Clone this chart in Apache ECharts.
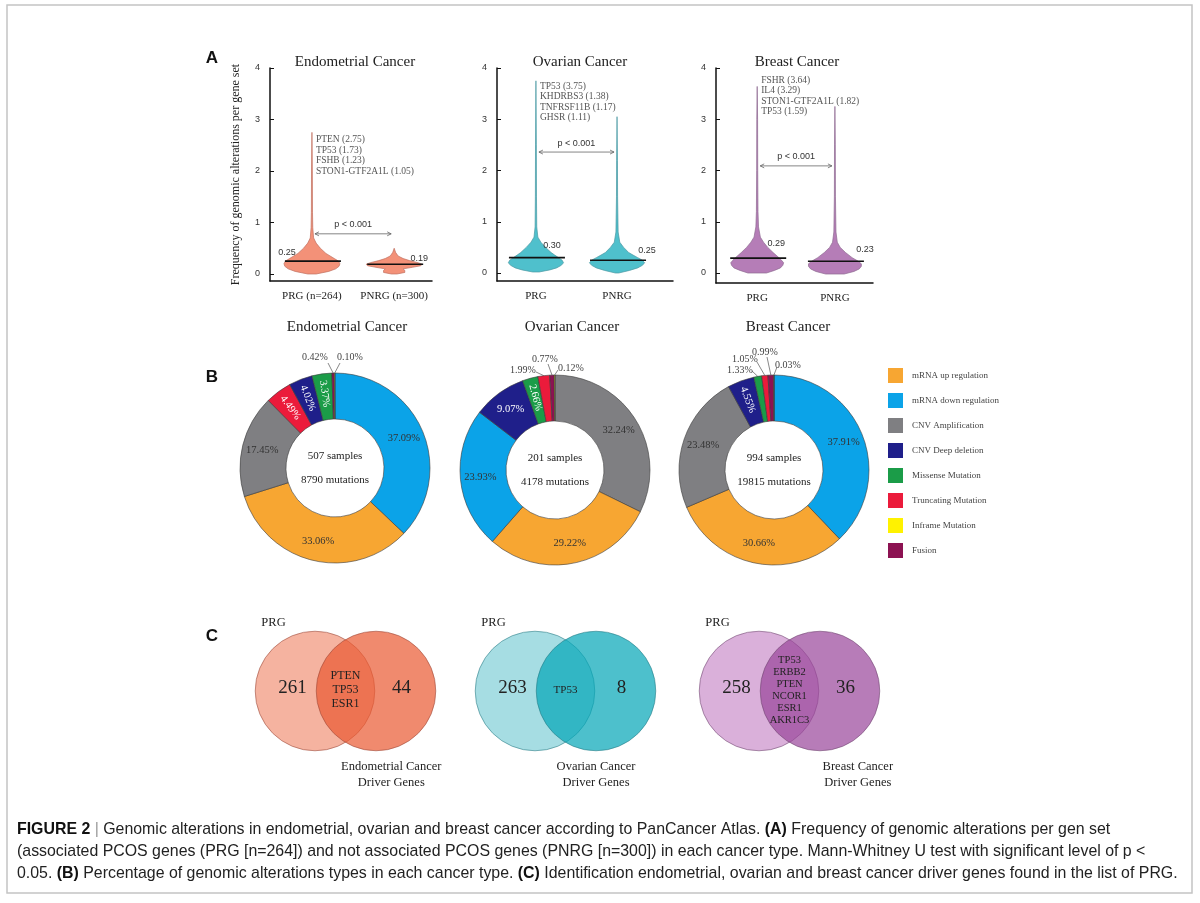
<!DOCTYPE html>
<html>
<head>
<meta charset="utf-8">
<title>Figure 2 - Genomic alterations</title>
<script src="https://cdn.jsdelivr.net/npm/echarts@6/dist/echarts.min.js"></script>
<style>
  html, body { margin: 0; padding: 0; background: #fff; }
  #chart { width: 1200px; height: 903px; }
</style>
</head>
<body>
<div id="chart"></div>
<script>
const serif = '"Liberation Serif", "DejaVu Serif", serif';
const sans = '"Liberation Sans", Arial, sans-serif';

// ---------- panel A : violins ----------
const cancerNames = ['Endometrial Cancer', 'Ovarian Cancer', 'Breast Cancer'];
const endoGroups = ['PRG (n=264)', 'PNRG (n=300)'];
const otherGroups = ['PRG', 'PNRG'];
const yTicks = [0, 1, 2, 3, 4];
const medians = [[0.25, 0.19], [0.30, 0.25], [0.29, 0.23]];

// density profiles: level on the y axis, relative width
const endoPrgLevels = [0.0, 0.05, 0.1, 0.15, 0.2, 0.25, 0.3, 0.35, 0.4, 0.5, 0.6, 0.7, 0.9, 1.2, 2.0, 2.75];
const endoPrgDensity = [0.15, 0.6, 0.85, 0.97, 1.0, 0.95, 0.8, 0.65, 0.5, 0.3, 0.15, 0.06, 0.03, 0.02, 0.015, 0];
const endoPnrgLevels = [0.0, 0.03, 0.07, 0.1, 0.13, 0.16, 0.19, 0.22, 0.26, 0.3, 0.35, 0.42, 0.5];
const endoPnrgDensity = [0.1, 0.38, 0.38, 0.32, 0.65, 0.95, 1.0, 0.85, 0.55, 0.32, 0.14, 0.05, 0];
const ovPrgLevels = [0.02, 0.06, 0.1, 0.15, 0.2, 0.25, 0.3, 0.35, 0.4, 0.5, 0.6, 0.7, 0.9, 1.5, 2.5, 3.75];
const ovPrgDensity = [0.12, 0.5, 0.75, 0.92, 1.0, 0.95, 0.82, 0.68, 0.55, 0.35, 0.18, 0.07, 0.03, 0.02, 0.015, 0];
const ovPnrgLevels = [0.0, 0.05, 0.1, 0.15, 0.2, 0.25, 0.3, 0.35, 0.4, 0.5, 0.6, 0.8, 1.5, 2.2, 3.05];
const ovPnrgDensity = [0.06, 0.45, 0.75, 0.92, 1.0, 0.92, 0.75, 0.58, 0.42, 0.24, 0.1, 0.04, 0.02, 0.015, 0];
const brPrgLevels = [0.0, 0.05, 0.1, 0.15, 0.2, 0.25, 0.3, 0.4, 0.5, 0.6, 0.7, 0.9, 1.2, 2.0, 3.0, 3.64];
const brPrgDensity = [0.35, 0.65, 0.88, 0.97, 1.0, 0.92, 0.82, 0.6, 0.4, 0.24, 0.12, 0.05, 0.03, 0.02, 0.015, 0];
const brPnrgLevels = [-0.02, 0.03, 0.08, 0.13, 0.18, 0.23, 0.3, 0.4, 0.5, 0.6, 0.8, 1.5, 2.5, 3.25];
const brPnrgDensity = [0.35, 0.72, 0.92, 1.0, 1.0, 0.88, 0.65, 0.4, 0.2, 0.09, 0.04, 0.02, 0.015, 0];

const endoNotes = ['PTEN (2.75)', 'TP53 (1.73)', 'FSHB (1.23)', 'STON1-GTF2A1L (1.05)'];
const ovNotes = ['TP53 (3.75)', 'KHDRBS3 (1.38)', 'TNFRSF11B (1.17)', 'GHSR (1.11)'];
const brNotes = ['FSHR (3.64)', 'IL4 (3.29)', 'STON1-GTF2A1L (1.82)', 'TP53 (1.59)'];
const pValueText = 'p < 0.001';
const pBracketLevels = [0.78, 2.36, 2.09];

// ---------- panel B : alteration types ----------
const alterationTypes = ['mRNA up regulation', 'mRNA down regulation', 'CNV Amplification', 'CNV Deep deletion',
  'Missense Mutation', 'Truncating Mutation', 'Inframe Mutation', 'Fusion'];
const sampleCounts = [507, 201, 994];
const mutationCounts = [8790, 4178, 19815];
const endoSliceTypes = ['mRNA down regulation', 'mRNA up regulation', 'CNV Amplification', 'Truncating Mutation',
  'CNV Deep deletion', 'Missense Mutation', 'Fusion', 'Inframe Mutation'];
const endoSlicePcts = [37.09, 33.06, 17.45, 4.49, 4.02, 3.37, 0.42, 0.10];
const ovSliceTypes = ['CNV Amplification', 'mRNA up regulation', 'mRNA down regulation', 'CNV Deep deletion',
  'Missense Mutation', 'Truncating Mutation', 'Fusion', 'Inframe Mutation'];
const ovSlicePcts = [32.24, 29.22, 23.93, 9.07, 2.66, 1.99, 0.77, 0.12];
const brSliceTypes = ['mRNA down regulation', 'mRNA up regulation', 'CNV Amplification', 'CNV Deep deletion',
  'Missense Mutation', 'Truncating Mutation', 'Fusion', 'Inframe Mutation'];
const brSlicePcts = [37.91, 30.66, 23.48, 4.55, 1.33, 1.05, 0.99, 0.03];

// ---------- panel C : venn ----------
const vennLeftName = 'PRG';
const vennLeftCounts = [261, 263, 258];
const vennRightCounts = [44, 8, 36];
const vennShared = [['PTEN', 'TP53', 'ESR1'], ['TP53'], ['TP53', 'ERBB2', 'PTEN', 'NCOR1', 'ESR1', 'AKR1C3']];
const vennRightNames = ['Endometrial Cancer\nDriver Genes', 'Ovarian Cancer\nDriver Genes', 'Breast Cancer\nDriver Genes'];

const captionLines = [
  '{b|FIGURE 2} {s||} Genomic alterations in endometrial, ovarian and breast cancer according to PanCancer Atlas. {b|(A)} Frequency of genomic alterations per gen set',
  '(associated PCOS genes (PRG [n=264]) and not associated PCOS genes (PNRG [n=300]) in each cancer type. Mann-Whitney U test with significant level of p <',
  '0.05. {b|(B)} Percentage of genomic alterations types in each cancer type. {b|(C)} Identification endometrial, ovarian and breast cancer driver genes found in the list of PRG.'
];

// ---------- styles / layout ----------
const typeColors = ['#F7A632', '#0BA3E8', '#7F7F82', '#1F1F8A', '#1B9C48', '#EB1B3B', '#FFF200', '#8C1252'];
const darkTypes = ['CNV Deep deletion', 'Missense Mutation', 'Truncating Mutation'];
const violinColors = [
  { fill: '#F39178', stroke: '#C07060' },
  { fill: '#4FC0CC', stroke: '#4A98A2' },
  { fill: '#B57DB7', stroke: '#8E6A90' }
];
const vennColors = [
  { left: '#F5B3A0', right: 'rgba(234,88,48,0.7)', stroke: 'rgba(150,70,55,0.7)' },
  { left: '#A6DDE3', right: 'rgba(2,165,182,0.7)', stroke: 'rgba(40,120,130,0.7)' },
  { left: '#DAB0DA', right: 'rgba(152,68,154,0.7)', stroke: 'rgba(110,70,110,0.7)' }
];
const violinProfiles = [
  [{ levels: endoPrgLevels, density: endoPrgDensity }, { levels: endoPnrgLevels, density: endoPnrgDensity }],
  [{ levels: ovPrgLevels, density: ovPrgDensity }, { levels: ovPnrgLevels, density: ovPnrgDensity }],
  [{ levels: brPrgLevels, density: brPrgDensity }, { levels: brPnrgLevels, density: brPnrgDensity }]
];
const violinNotes = [endoNotes, ovNotes, brNotes];
const noteDy = [7.6, 5.4, -6];
const medianLabelOffsets = [[[-25, -9], [25, -6]], [[16, -12], [30, -10]], [[19, -15], [30, -12]]];
const violinGrids = [
  { left: 270, top: 68, width: 162, height: 213, xmin: -0.51, xmax: 1.46, ymin: -0.136 },
  { left: 497, top: 68, width: 176, height: 213, xmin: -0.48, xmax: 1.69, ymin: -0.156 },
  { left: 716, top: 68, width: 157, height: 215, xmin: -0.53, xmax: 1.49, ymin: -0.195 }
];
const pieCenters = [[335, 468], [555, 470], [774, 470]];
// [label x, label y, line end x, line end y] for slices labelled outside the ring
const outsideLabels = [
  { 6: [315, 357, 328, 363], 7: [350, 357, 340, 363] },
  { 5: [523, 370, 536, 372], 6: [545, 359, 548, 364], 7: [571, 368, 558, 370] },
  { 4: [740, 370, 752, 371], 5: [745, 359, 757, 362], 6: [765, 352, 767, 357], 7: [788, 365, 777, 367] }
];
const vennGridLefts = [223.5, 443.5, 667.5];
const vennUnit = 61;
const vennRadius = 0.98;
const vennRightLabelX = [1.25, 1.0, 1.62];
const sharedFont = [[12, 14], [11, 13], [10.5, 12]];

const chart = echarts.init(document.getElementById('chart'));

const grids = [], xAxes = [], yAxes = [], series = [];

// pies
function pieSeries(k, types, pcts) {
  const outside = outsideLabels[k];
  return {
    type: 'pie', name: cancerNames[k], center: pieCenters[k], radius: [49, 95],
    startAngle: 90, clockwise: true, avoidLabelOverlap: false, silent: true,
    itemStyle: { borderColor: '#3b3b3b', borderWidth: 0.6 },
    label: {
      position: 'inside', fontFamily: serif, fontSize: 10.5, color: '#333',
      formatter: function (p) { return p.value.toFixed(2) + '%'; }
    },
    labelLine: { show: false },
    data: types.map(function (t, i) {
      const pct = pcts[i];
      const item = { name: t, value: pct, itemStyle: { color: typeColors[alterationTypes.indexOf(t)] } };
      if (pct < 2.5) {
        item.label = { position: 'outside', color: '#444', fontSize: 10 };
        item.labelLine = { show: true, length: 6, length2: 4, lineStyle: { color: '#555', width: 0.7 } };
      } else if (pct < 5) {
        item.label = { rotate: 'radial', color: '#fff' };
      } else if (darkTypes.indexOf(t) >= 0) {
        item.label = { color: '#fff' };
      }
      return item;
    }),
    labelLayout: function (p) {
      const pos = outside[p.dataIndex];
      if (!pos) return {};
      const pts = p.labelLinePoints;
      const res = { x: pos[0], y: pos[1], align: 'center', verticalAlign: 'middle' };
      if (pts && pts.length) res.labelLinePoints = [pts[0], [pos[2], pos[3]]];
      return res;
    }
  };
}
series.push(pieSeries(0, endoSliceTypes, endoSlicePcts));
series.push(pieSeries(1, ovSliceTypes, ovSlicePcts));
series.push(pieSeries(2, brSliceTypes, brSlicePcts));

// violins
function violinRender(panel) {
  return function (params, api) {
    const cat = api.value(0);
    const med = api.value(1);
    const prof = violinProfiles[panel][cat];
    const half = api.size([1, 0])[0] * 0.34;
    const right = [], left = [];
    for (let i = 0; i < prof.levels.length; i++) {
      const p = api.coord([cat, prof.levels[i]]);
      right.push([p[0] + prof.density[i] * half, p[1]]);
      left.unshift([p[0] - prof.density[i] * half, p[1]]);
    }
    const col = violinColors[panel];
    const m = api.coord([cat, med]);
    const off = medianLabelOffsets[panel][cat];
    const kids = [
      { type: 'polygon', shape: { points: right.concat(left) }, style: { fill: col.fill, stroke: col.stroke, lineWidth: 0.7 } },
      { type: 'line', shape: { x1: m[0] - 27, y1: m[1], x2: m[0] + 29, y2: m[1] }, style: { stroke: '#111', lineWidth: 1.6 } },
      { type: 'text', x: m[0] + off[0], y: m[1] + off[1],
        style: { text: med.toFixed(2), fontFamily: sans, fontSize: 9, fill: '#333', align: 'center', verticalAlign: 'middle' } }
    ];
    if (cat === 0) {
      const top = api.coord([0, prof.levels[prof.levels.length - 1]]);
      kids.push({ type: 'text', x: top[0] + 4, y: top[1] + noteDy[panel] - 5.25,
        style: { text: violinNotes[panel].join('\n'), fontFamily: serif, fontSize: 9.5, lineHeight: 10.5,
          fill: '#555', align: 'left', verticalAlign: 'top' } });
    } else {
      const a = api.coord([0, pBracketLevels[panel]]);
      const b = api.coord([1, pBracketLevels[panel]]);
      const x1 = a[0] + 3, x2 = b[0] - 3, y = a[1];
      const st = { stroke: '#666', lineWidth: 0.8, fill: null };
      kids.push(
        { type: 'line', shape: { x1: x1, y1: y, x2: x2, y2: y }, style: st },
        { type: 'polyline', shape: { points: [[x1 + 4, y - 2], [x1, y], [x1 + 4, y + 2]] }, style: st },
        { type: 'polyline', shape: { points: [[x2 - 4, y - 2], [x2, y], [x2 - 4, y + 2]] }, style: st },
        { type: 'text', x: (x1 + x2) / 2, y: y - 9,
          style: { text: pValueText, fontFamily: sans, fontSize: 9, fill: '#333', align: 'center', verticalAlign: 'middle' } }
      );
    }
    return { type: 'group', children: kids };
  };
}

violinGrids.forEach(function (g, k) {
  const groups = k === 0 ? endoGroups : otherGroups;
  grids.push({ left: g.left, top: g.top, width: g.width, height: g.height });
  xAxes.push({
    type: 'value', gridIndex: k, min: g.xmin, max: g.xmax,
    axisLine: { onZero: false, lineStyle: { color: '#111', width: 1.5 } },
    axisTick: { show: false }, splitLine: { show: false },
    axisLabel: { customValues: [0, 1], formatter: function (v) { return groups[Math.round(v)]; },
      fontFamily: serif, fontSize: 11, color: '#222', margin: 10 }
  });
  yAxes.push({
    type: 'value', gridIndex: k, min: g.ymin, max: 4,
    name: k === 0 ? 'Frequency of genomic alterations per gene set' : '',
    nameLocation: 'middle', nameGap: 28, nameRotate: 90,
    nameTextStyle: { fontFamily: serif, fontSize: 12, color: '#222' },
    axisLine: { onZero: false, lineStyle: { color: '#111', width: 1.5 } },
    axisTick: { inside: true, length: 4, customValues: yTicks, lineStyle: { color: '#111' } },
    splitLine: { show: false },
    axisLabel: { customValues: yTicks, fontFamily: sans, fontSize: 9, color: '#333', margin: 10 }
  });
  series.push({
    type: 'custom', xAxisIndex: k, yAxisIndex: k, silent: true, clip: false,
    data: [[0, medians[k][0]], [1, medians[k][1]]],
    renderItem: violinRender(k)
  });
});

// venns
function vennRender(panel) {
  return function (params, api) {
    const idx = params.dataIndex;
    const c = api.coord([api.value(0), api.value(1)]);
    const r = api.size([vennRadius, 0])[0];
    const col = vennColors[panel];
    const kids = [{ type: 'circle', shape: { cx: c[0], cy: c[1], r: r },
      style: { fill: idx === 0 ? col.left : col.right, stroke: col.stroke, lineWidth: 0.8 } }];
    if (idx === 1) {
      const t = function (x, y, text, size, lh) {
        const p = api.coord([x, y]);
        return { type: 'text', x: p[0], y: p[1], style: { text: text, fontFamily: serif, fontSize: size,
          lineHeight: lh || size * 1.2, fill: '#222', align: 'center', verticalAlign: 'middle' } };
      };
      kids.push(
        t(-0.68, 1.12, vennLeftName, 12.5),
        t(-0.37, 0.05, String(vennLeftCounts[panel]), 19),
        t(1.42, 0.05, String(vennRightCounts[panel]), 19),
        t(0.5, 0.02, vennShared[panel].join('\n'), sharedFont[panel][0], sharedFont[panel][1]),
        t(vennRightLabelX[panel], -1.37, vennRightNames[panel], 12.5, 16)
      );
    }
    return { type: 'group', children: kids };
  };
}

vennGridLefts.forEach(function (left, k) {
  const gi = 3 + k;
  grids.push({ left: left, top: 599.5, width: 4 * vennUnit, height: 3 * vennUnit });
  xAxes.push({ type: 'value', gridIndex: gi, min: -1.5, max: 2.5, show: false });
  yAxes.push({ type: 'value', gridIndex: gi, min: -1.5, max: 1.5, show: false });
  series.push({
    type: 'custom', xAxisIndex: gi, yAxisIndex: gi, silent: true, clip: false,
    data: [[0, 0], [1, 0]],
    renderItem: vennRender(k)
  });
});

// free text
const graphics = [
  { type: 'rect', shape: { x: 7, y: 5, width: 1185, height: 888 }, style: { fill: null, stroke: '#c4c4c4', lineWidth: 1.5 } }
];
function label(x, y, text, font, size, weight, color, align) {
  graphics.push({ type: 'text', x: x, y: y, style: { text: text, fontFamily: font, fontSize: size,
    fontWeight: weight || 'normal', fill: color || '#222', align: align || 'center', verticalAlign: 'middle' } });
}
label(212, 58, 'A', sans, 17, 'bold', '#111');
label(212, 377, 'B', sans, 17, 'bold', '#111');
label(212, 636, 'C', sans, 17, 'bold', '#111');
[355, 580, 797].forEach(function (x, k) { label(x, 62, cancerNames[k], serif, 15); });
[347, 572, 788].forEach(function (x, k) { label(x, 327, cancerNames[k], serif, 15); });
pieCenters.forEach(function (c, k) {
  label(c[0], c[1] - 12, sampleCounts[k] + ' samples', serif, 11);
  label(c[0], c[1] + 12, mutationCounts[k] + ' mutations', serif, 11);
});
captionLines.forEach(function (line, i) {
  graphics.push({ type: 'text', x: 17, y: 830 + i * 22, style: {
    text: line, fontFamily: sans, fontSize: 15.9, fill: '#222', verticalAlign: 'middle',
    rich: {
      b: { fontFamily: sans, fontSize: 15.9, fontWeight: 'bold', fill: '#111' },
      s: { fontFamily: sans, fontSize: 15.9, fill: '#999' }
    }
  } });
});

chart.setOption({
  animation: false,
  backgroundColor: '#fff',
  legend: {
    orient: 'vertical', left: 883, top: 363, itemWidth: 15, itemHeight: 15, itemGap: 10,
    icon: 'rect', selectedMode: false, data: alterationTypes,
    itemStyle: { borderWidth: 0 },
    textStyle: { fontFamily: serif, fontSize: 9, color: '#444', padding: [0, 0, 0, 4] }
  },
  grid: grids,
  xAxis: xAxes,
  yAxis: yAxes,
  series: series,
  graphic: graphics
});
</script>
</body>
</html>
